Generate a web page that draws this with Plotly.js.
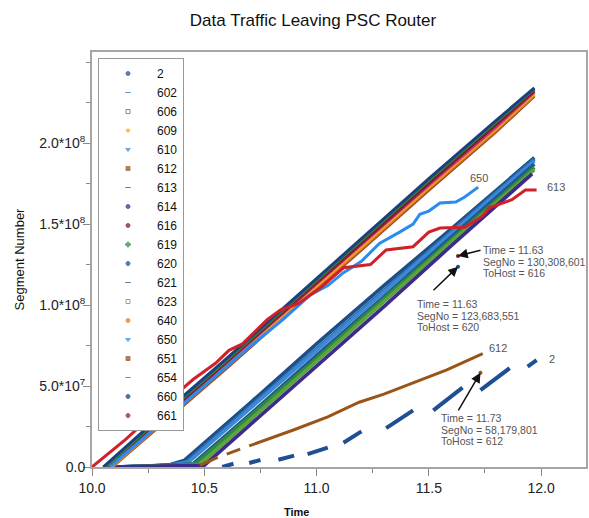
<!DOCTYPE html>
<html><head><meta charset="utf-8">
<script src="https://cdn.plot.ly/plotly-3.0.1.min.js"></script>
<style>html,body{margin:0;padding:0;background:#fff}#chart{width:589px;height:518px}</style>
</head><body><div id="chart"></div>
<script>
// ---- legend / series definitions (legend order) ----
const seriesNames   = ['2','602','606','609','610','612','613','614','616','619','620','621','623','640','650','651','654','660','661'];
const seriesColors  = ['#1f4f93','#2f6db0','#2f8a35','#f0a030','#3a8ad8','#9a5418','#d0202a','#3d2a8a','#7b1830','#2e8a40','#1d4f86','#24568f','#5aa63c','#e07a20','#2b8cf0','#9a4a1a','#c83a6a','#1c3f7f','#8a1c48'];
const legendSymbols = ['circle','line-ew','square-open','asterisk-open','triangle-down','square','line-ew','circle','circle','cross','circle','line-ew','square-open','circle','triangle-down','square','line-ew','circle','circle'];

// ---- data: time (s) and segment number (millions) ----
const t2   = [10.58,10.63,null,10.70,10.75,null,10.83,10.90,null,10.96,11.05,null,11.12,11.20,null,11.31,11.43,null,11.52,11.65,null,11.73,11.86,null,11.94,11.98];
const v2   = [0,2,null,2.5,4.3,null,4.5,7,null,8,12,null,15,22,null,24,35,null,35,49,null,47.5,61,null,62,66];

const t612 = [10.48,10.56,null,10.60,10.66,null,10.70,10.80,10.90,11.05,11.19,11.30,11.43,11.58,11.74];
const v612 = [1,6,null,8,11,null,13,18,23,31,40,45,52,60,70];

const t613 = [10.00,10.15,10.30,10.45,10.55,10.61,10.67,10.72,10.78,10.84,10.92,11.02,11.08,11.12,11.24,11.31,11.43,11.50,11.55,11.66,11.74,11.77,11.87,11.93,11.98];
const v613 = [0,17,36,54,64,72,76,83,91,97,101,111,118,123,125,134,136,145,147.5,148,155,160,165,171,171];

const t650 = [10.08,10.40,10.70,10.85,10.97,11.05,11.12,11.20,11.28,11.37,11.43,11.46,11.50,11.55,11.62,11.66,11.72];
const v650 = [0,38,74,91,106,112,120,127,138,145,150,156,158,163,163.6,166.7,172.8];

// upper group
const t660 = [10.05,10.30,10.60,10.90,11.20,11.50,11.80,11.97];
const v660 = [0,31,67,104,141,178,214,234];
const t606 = [10.06,10.30,10.60,10.90,11.20,11.50,11.80,11.97];
const v606 = [0,30,66,103,140,177,213,233.5];
const t616 = [10.06,10.30,10.60,10.90,11.20,11.50,11.80,11.97];
const v616 = [0,29,66,103,139,176,212,233];
const t661 = [10.07,10.30,10.60,10.90,11.20,11.50,11.80,11.97];
const v661 = [0,28,65,101,138,175,211,232];
const t654 = [10.07,10.30,10.60,10.90,11.20,11.50,11.80,11.97];
const v654 = [0,28,64,101,137,174,210,231.5];
const t609 = [10.08,10.30,10.60,10.90,11.20,11.50,11.80,11.97];
const v609 = [0,27,63,100,136,173,209,230.5];
const t640 = [10.09,10.30,10.60,10.90,11.20,11.50,11.80,11.97];
const v640 = [0,26,62,99,135,172,208,229.5];
const t651 = [10.09,10.30,10.60,10.90,11.20,11.50,11.80,11.97];
const v651 = [0,25,61,98,134,171,207,229];

// lower group
const t620 = [10.10,10.25,10.35,10.41,10.70,11.00,11.30,11.60,11.97];
const v620 = [0,0.5,1.5,4,39,76,112,147,191];
const t602 = [10.10,10.25,10.35,10.42,10.70,11.00,11.30,11.60,11.97];
const v602 = [0,0.4,1.2,3,37,73,109,145,190];
const t610 = [10.10,10.25,10.35,10.43,10.70,11.00,11.30,11.60,11.97];
const v610 = [0,0.3,1,3,36,72,108,144,189];
const t621 = [10.10,10.25,10.35,10.45,10.70,11.00,11.30,11.60,11.97];
const v621 = [0,0.3,1,2,32,69,105,142,187];
const t619 = [10.10,10.25,10.35,10.46,10.70,11.00,11.30,11.60,11.97];
const v619 = [0,0.2,0.8,2,31,67,104,140,185];
const t623 = [10.10,10.25,10.35,10.48,10.70,11.00,11.30,11.60,11.97];
const v623 = [0,0.2,0.6,1.5,28.5,65,102,139,183.5];
const t614 = [10.10,10.25,10.35,10.50,10.70,11.00,11.30,11.60,11.96];
const v614 = [0,0.2,0.5,1,25.6,62,99,136.6,181];

// annotated single points
const annotHosts = ['616','620','612'];
const annotTimes = [11.63,11.63,11.73];
const annotSegNo = [130308601,123683551,58179801];

// axis ticks
const xTickVals = [10,10.5,11,11.5,12];
const xTickText = ['10.0','10.5','11.0','11.5','12.0'];
const yTickVals = [0,50,100,150,200];
const yTickText = ['0.0','5.0*10<sup>7</sup>','1.0*10<sup>8</sup>','1.5*10<sup>8</sup>','2.0*10<sup>8</sup>'];

// ---- build ----
const seriesData = {
  '2':[t2,v2],'602':[t602,v602],'606':[t606,v606],'609':[t609,v609],'610':[t610,v610],
  '612':[t612,v612],'613':[t613,v613],'614':[t614,v614],'616':[t616,v616],'619':[t619,v619],
  '620':[t620,v620],'621':[t621,v621],'623':[t623,v623],'640':[t640,v640],'650':[t650,v650],
  '651':[t651,v651],'654':[t654,v654],'660':[t660,v660],'661':[t661,v661]
};
const lowerGroup = ['620','602','610','621','619','623','614'];
const drawOrder = lowerGroup.concat(['651','640','609','654','661','616','606','660','650','613','612','2']);
const colorOf = n => seriesColors[seriesNames.indexOf(n)];

const traces = [];
drawOrder.forEach(n => {
  const d = seriesData[n];
  const w = n === '2' ? 4 : (lowerGroup.includes(n) ? 3.6 : 3);
  traces.push({
    type:'scatter', mode:'lines', name:n, legendgroup:n, showlegend:false,
    x:d[0], y:d[1], connectgaps:false,
    line:{color:colorOf(n), width:w}
  });
});
// single annotated points
annotHosts.forEach((h,i) => {
  traces.push({type:'scatter', mode:'markers', name:h, legendgroup:h, showlegend:false,
    x:[annotTimes[i]], y:[annotSegNo[i]/1e6],
    marker:{color:colorOf(h), size:4}});
});
// legend entries (marker only, like the reference)
seriesNames.forEach((n,i) => {
  traces.push({type:'scatter', mode:'markers', name:n, legendgroup:n, showlegend:true,
    x:[null], y:[null],
    marker:{color:seriesColors[i], symbol:legendSymbols[i], size:4, opacity:0.75, line:{color:seriesColors[i], width:1}}});
});

// pixel -> paper helpers for text placement
const PX = x => (x-92)/494, PY = y => (467-y)/415;
const fmt = n => n.toLocaleString('en-US');
const textPos = [[481,250],[415,304],[439,418]];
const arrowTail = [[24,-6],[-26,25],[-23,39]];
const annotations = [];
annotHosts.forEach((h,i) => {
  annotations.push({x:annotTimes[i], y:annotSegNo[i]/1e6, xref:'x', yref:'y', text:'',
    showarrow:true, arrowhead:2, arrowsize:1.3, arrowwidth:1.5, arrowcolor:'#111',
    ax:arrowTail[i][0], ay:arrowTail[i][1]});
  const lines = ['Time = '+annotTimes[i].toFixed(2), 'SegNo = '+fmt(annotSegNo[i]), 'ToHost = '+h];
  lines.forEach((s,k) => annotations.push({xref:'paper', yref:'paper', x:PX(textPos[i][0]), y:PY(textPos[i][1]+k*11.5),
    xanchor:'left', yanchor:'middle', text:s, showarrow:false, font:{family:'Arial', size:10.5, color:'#555'}}));
});
// series end labels
const endLabels = [['650','center',1,-9],['613','left',8,-3],['612','left',4,-6],['2','left',10,-1]];
endLabels.forEach(([n,anc,dx,dy]) => {
  const d = seriesData[n];
  annotations.push({x:d[0][d[0].length-1], y:d[1][d[1].length-1], xref:'x', yref:'y', text:n, showarrow:false,
    xanchor:anc, yanchor:'middle', xshift:dx, yshift:-dy, font:{family:'Arial', size:11, color:'#555'}});
});
// x axis title
annotations.push({xref:'paper', yref:'paper', x:PX(296), y:PY(512), text:'<b>Time</b>', showarrow:false,
  xanchor:'center', yanchor:'middle', font:{family:'Arial', size:11, color:'#111'}});

const axisCommon = {showgrid:false, zeroline:false, showline:true, mirror:true, linecolor:'#a6a6a6', linewidth:2,
  ticks:'outside', ticklen:7, tickwidth:1, tickcolor:'#888', tickfont:{family:'Arial', size:14, color:'#222'}};

const layout = {
  width:589, height:518,
  margin:{l:92, r:3, t:52, b:51},
  paper_bgcolor:'#fff', plot_bgcolor:'#fff',
  title:{text:'Data Traffic Leaving PSC Router', font:{family:'Arial', size:17, color:'#111'},
         x:313/589, xanchor:'center', y:1-20/518, yanchor:'middle'},
  xaxis:Object.assign({}, axisCommon, {range:[10,12.2], tickvals:xTickVals, ticktext:xTickText,
    minor:{dtick:0.25, tick0:10, ticklen:4, ticks:'outside', tickcolor:'#888'}}),
  yaxis:Object.assign({}, axisCommon, {range:[0,256.2], tickvals:yTickVals, ticktext:yTickText,
    tickfont:{family:'Arial', size:14, color:'#222'}, ticklabelstandoff:-5,
    minor:{dtick:25, tick0:0, ticklen:4, ticks:'outside', tickcolor:'#888'},
    title:{text:'Segment Number', font:{family:'Arial', size:13, color:'#111'}, standoff:12}}),
  showlegend:true,
  legend:{x:PX(98), y:PY(58), xanchor:'left', yanchor:'top', traceorder:'normal',
    bgcolor:'#fff', bordercolor:'#999', borderwidth:1, itemwidth:48,
    font:{family:'Arial', size:12, color:'#111'}},
  annotations:annotations
};
Plotly.newPlot('chart', traces, layout, {staticPlot:true, displayModeBar:false});
</script></body></html>
